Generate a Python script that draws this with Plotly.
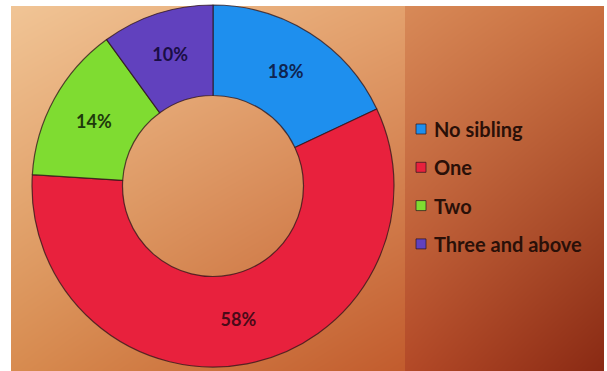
import base64
import struct
import zlib

import numpy as np
import plotly.graph_objects as go

# Sibling counts (share of respondents, %)
categories = ["No sibling", "One", "Two", "Three and above"]
shares = [18, 58, 14, 10]

slice_colors = ["#1E8FEE", "#E8213D", "#7FDC31", "#6141BE"]
label_colors = ["#0F2450", "#4A0A18", "#1E3A0C", "#1A0E45"]

W, H = 607, 371


def lerp_panel(x0, x1, y0, y1, tl, tr, bl, br):
    """Bilinear colour blend across a rectangular panel."""
    xs = np.linspace(0.0, 1.0, x1 - x0)[None, :, None]
    ys = np.linspace(0.0, 1.0, y1 - y0)[:, None, None]
    tl, tr, bl, br = (np.array(c, dtype=float) for c in (tl, tr, bl, br))
    top = tl * (1 - xs) + tr * xs
    bot = bl * (1 - xs) + br * xs
    return top * (1 - ys) + bot * ys


def png_data_uri(rgb):
    h, w, _ = rgb.shape
    raw = b"".join(b"\x00" + rgb[r].astype(np.uint8).tobytes() for r in range(h))

    def chunk(tag, data):
        return (struct.pack(">I", len(data)) + tag + data
                + struct.pack(">I", zlib.crc32(tag + data) & 0xFFFFFFFF))

    png = (b"\x89PNG\r\n\x1a\n"
           + chunk(b"IHDR", struct.pack(">IIBBBBB", w, h, 8, 2, 0, 0, 0))
           + chunk(b"IDAT", zlib.compress(raw, 9))
           + chunk(b"IEND", b""))
    return "data:image/png;base64," + base64.b64encode(png).decode()


# Backdrop: white frame, warm left panel and darker rust legend panel
bg = np.full((H, W, 3), 255.0)
top, bottom, left, split, right = 6, H, 11, 405, 604
bg[top:bottom, left:split] = lerp_panel(left, split, top, bottom,
                                        (241, 197, 150), (228, 162, 110),
                                        (216, 140, 80), (194, 92, 46))
bg[top:bottom, split:right] = lerp_panel(split, right, top, bottom,
                                         (216, 138, 88), (202, 112, 64),
                                         (180, 74, 40), (138, 42, 20))
bg_uri = png_data_uri(np.clip(bg, 0, 255))

# Donut geometry in pixels
cx, cy, r = 213, 186, 181

fig = go.Figure()
fig.add_trace(go.Pie(
    labels=categories,
    values=shares,
    hole=0.5,
    sort=False,
    direction="clockwise",
    rotation=0,
    marker=dict(colors=slice_colors,
                line=dict(color="rgba(45,20,25,0.75)", width=1.2)),
    textinfo="percent",
    texttemplate="%{percent:.0%}",
    textposition="inside",
    insidetextorientation="horizontal",
    textfont=dict(family="Lato", size=18, color=label_colors, weight="bold"),
    showlegend=False,
    domain=dict(x=[(cx - r) / W, (cx + r) / W],
                y=[(H - cy - r) / H, (H - cy + r) / H]),
))

# Legend drawn as swatches and labels in the right-hand panel
legend_top, legend_step = 129, 38.3
sw_x0, sw_size, text_x = 416, 10, 432
shapes, annotations = [], []
for i, (name, col) in enumerate(zip(categories, slice_colors)):
    yc = legend_top + i * legend_step
    shapes.append(dict(
        type="rect", xref="paper", yref="paper",
        x0=sw_x0 / W, x1=(sw_x0 + sw_size) / W,
        y0=(H - yc - sw_size / 2) / H, y1=(H - yc + sw_size / 2) / H,
        fillcolor=col, line=dict(color="rgba(40,20,30,0.7)", width=1),
    ))
    annotations.append(dict(
        text=name, xref="paper", yref="paper",
        x=text_x / W, y=(H - yc) / H, xanchor="left", yanchor="middle",
        showarrow=False,
        font=dict(family="Lato", size=20, color="#2A1008", weight="bold"),
    ))

fig.update_layout(
    width=W, height=H,
    margin=dict(l=0, r=0, t=0, b=0),
    paper_bgcolor="white",
    plot_bgcolor="rgba(0,0,0,0)",
    images=[dict(source=bg_uri, xref="paper", yref="paper", x=0, y=1,
                 sizex=1, sizey=1, sizing="stretch", layer="below",
                 xanchor="left", yanchor="top")],
    shapes=shapes,
    annotations=annotations,
)

fig.write_html("out.html")
